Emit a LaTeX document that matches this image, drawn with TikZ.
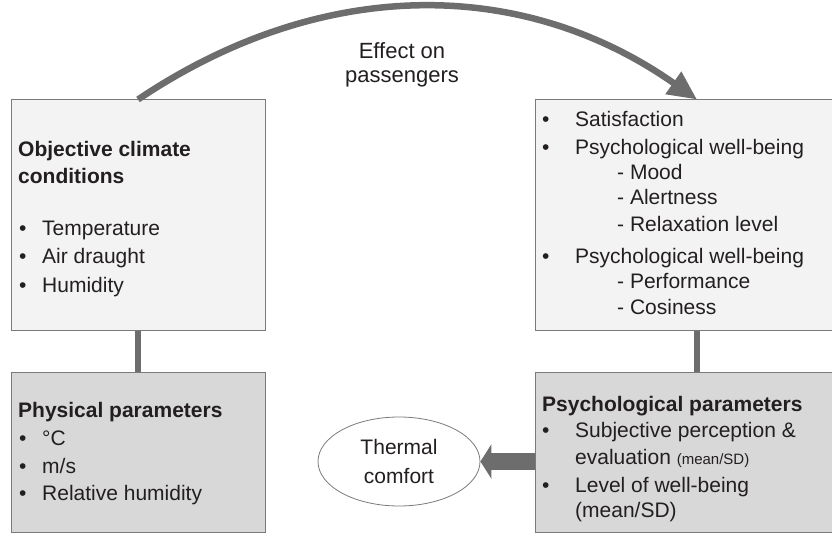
\documentclass[tikz,border=0pt]{standalone}
\usepackage{fontspec}
\setmainfont{Liberation Sans}
\usetikzlibrary{arrows.meta,shapes.geometric}

\definecolor{boxline}{HTML}{7A7A7A}
\definecolor{lightfill}{HTML}{F3F3F3}
\definecolor{darkfill}{HTML}{D8D8D8}
\definecolor{arrowgray}{HTML}{6D6D6D}
\definecolor{ink}{HTML}{231F20}

% bullet item: bullet, then text after a fixed gap
\newcommand{\itm}[2][23pt]{\makebox[#1][l]{\textbullet}#2}

\begin{document}
\begin{tikzpicture}[x=1pt,y=-1pt,
	every node/.style={inner sep=0pt, text=ink, font=\fontsize{21}{27}\selectfont},
	txt/.style={anchor=base west},
	head/.style={anchor=base west, font=\fontsize{21}{27}\selectfont\bfseries},
	lightbox/.style={draw=boxline, fill=lightfill, line width=1pt},
	darkbox/.style={draw=boxline, fill=darkfill, line width=1pt},
	link/.style={draw=arrowgray, line width=6.5pt}]
				\useasboundingbox (0,0) rectangle (832,534);
				% boxes
				\node [lightbox, minimum width=254pt, minimum height=231pt] (objbox) at (138,215.5) {};
				\node [darkbox, minimum width=254pt, minimum height=160pt] (physbox) at (138,452) {};
				\node [lightbox, minimum width=299pt, minimum height=231pt] (satbox) at (684.5,215.5) {};
				\node [darkbox, minimum width=299pt, minimum height=160pt] (psybox) at (684.5,452) {};
				\node [ellipse, draw=boxline, fill=white, line width=0.8pt, minimum width=162pt, minimum height=89pt, align=center, font=\fontsize{21}{29}\selectfont] (comfort) at (399,461.5) {Thermal\\comfort};
				\coordinate (rlink) at (697,0);
				% connectors
				\draw [link] (objbox.south) -- (physbox.north);
				\draw [link] (satbox.south -| rlink) -- (psybox.north -| rlink);
				\draw [link, -{Triangle[length=29pt, width=26pt]}] (objbox.north) .. controls +(183,-123) and +(-175,-123) .. (satbox.north -| rlink);
				\draw [draw=arrowgray, line width=17pt, -{Triangle[length=11pt, width=34pt]}] (psybox.west |- comfort) -- (comfort.east);
				\node [align=center, font=\fontsize{22}{24}\selectfont] (effect) at (402,65) {Effect on\\passengers};
				% left column
				\node [head] (obj1) at (18,157) {Objective climate};
				\node [head] (obj2) at (18,184) {conditions};
				\node [txt] (obj3) at (19,236) {\itm{Temperature}};
				\node [txt] (obj4) at (19,264) {\itm{Air draught}};
				\node [txt] (obj5) at (19,293) {\itm{Humidity}};
				\node [head] (phys1) at (18,417) {Physical parameters};
				\node [txt] (phys2) at (19,445) {\itm{°C}};
				\node [txt] (phys3) at (19,473) {\itm{m/s}};
				\node [txt] (phys4) at (19,500) {\itm{Relative humidity}};
				% right column
				\node [txt] (sat1) at (542,127) {\itm[33pt]{Satisfaction}};
				\node [txt] (sat2) at (542,155) {\itm[33pt]{Psychological well-being}};
				\node [txt] (sat3) at (617,180) {- Mood};
				\node [txt] (sat4) at (617,205) {- Alertness};
				\node [txt] (sat5) at (617,232) {- Relaxation level};
				\node [txt] (sat6) at (542,264) {\itm[33pt]{Psychological well-being}};
				\node [txt] (sat7) at (617,289) {- Performance};
				\node [txt] (sat8) at (617,315) {- Cosiness};
				\node [head] (psy1) at (542,411) {Psychological parameters};
				\node [txt] (psy2) at (542,437) {\itm[33pt]{Subjective perception \&}};
				\node [txt] (psy3) at (575,464) {evaluation {\fontsize{15}{18}\selectfont(mean/SD)}};
				\node [txt] (psy4) at (542,492) {\itm[33pt]{Level of well-being}};
				\node [txt] (psy5) at (575,517) {(mean/SD)};
			\end{tikzpicture}
\end{document}
